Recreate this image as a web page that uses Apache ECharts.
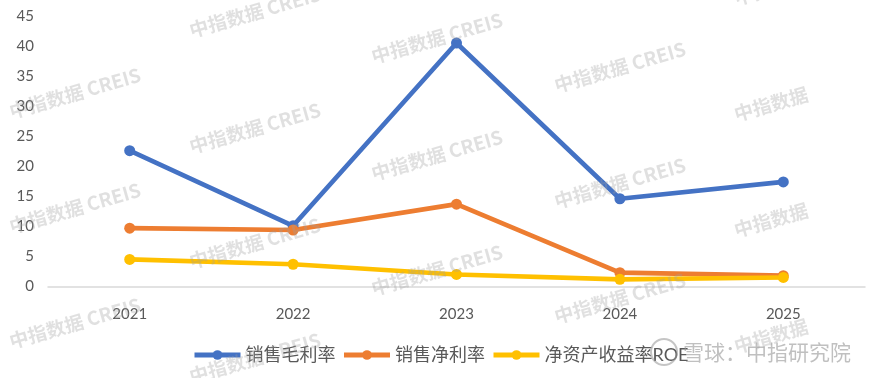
<!DOCTYPE html>
<html>
<head>
<meta charset="utf-8">
<script src="https://cdn.jsdelivr.net/npm/echarts@6/dist/echarts.min.js"></script>
<style>
  html, body { margin: 0; padding: 0; background: #fff; }
  #chart { width: 876px; height: 378px; }
</style>
</head>
<body>
<div id="chart"></div>
<script>
// data
const years = ['2021', '2022', '2023', '2024', '2025'];
const grossMargin = [22.6, 10.1, 40.5, 14.6, 17.4];
const netMargin = [9.7, 9.4, 13.7, 2.3, 1.8];
const roe = [4.5, 3.7, 2.0, 1.2, 1.5];
const seriesNames = ['销售毛利率', '销售净利率', '净资产收益率ROE'];

const textFont = 'Lato, "Noto Sans CJK SC", sans-serif';

// watermark spots
const markSpots = [
  [75, 93, 1], [75, 208, 1], [75, 323, 1],
  [255, 12, 1], [255, 128, 1], [255, 243, 1], [255, 358, 1],
  [437, 38, 1], [437, 155, 1], [437, 270, 1],
  [620, 67, 1], [620, 183, 1], [620, 298, 1],
  [771, -12, 0], [771, 104, 0], [771, 220, 0], [771, 336, 0]
];

function makeMarks() {
  let items = markSpots.map(function (p) {
    return {
      type: 'text',
      x: p[0],
      y: p[1],
      rotation: 0.28,
      z: 100,
      silent: true,
      style: {
        text: p[2] ? '中指数据 CREIS' : '中指数据',
        fill: 'rgba(160,160,160,0.32)',
        font: 'bold 19px "Noto Sans CJK SC", sans-serif',
        align: 'center',
        verticalAlign: 'middle'
      }
    };
  });
  items.push({
    type: 'circle',
    shape: { cx: 664, cy: 352, r: 13 },
    z: 100,
    silent: true,
    style: { fill: 'none', stroke: 'rgba(150,150,150,0.55)', lineWidth: 2 }
  });
  items.push({
    type: 'text',
    x: 683,
    y: 352,
    z: 100,
    silent: true,
    style: {
      text: '雪球：中指研究院',
      fill: 'rgba(150,150,150,0.6)',
      font: '21px "Noto Sans CJK SC", sans-serif',
      align: 'left',
      verticalAlign: 'middle'
    }
  });
  return items;
}

function makeLine(name, data, color) {
  return {
    name: name,
    type: 'line',
    data: data,
    symbol: 'circle',
    symbolSize: 11,
    lineStyle: { width: 4.7, color: color },
    itemStyle: { color: color },
    emphasis: { disabled: true }
  };
}

const myChart = echarts.init(document.getElementById('chart'));
myChart.setOption({
  animation: false,
  color: ['#4472C4', '#ED7D31', '#FFC000'],
  grid: { left: 48, right: 11, top: 16, bottom: 91.5, containLabel: false },
  legend: {
    top: 346,
    left: 192,
    padding: 0,
    itemWidth: 46,
    itemHeight: 12,
    itemGap: 6,
    lineStyle: { width: 5 },
    textStyle: { fontSize: 18, color: '#595959', fontFamily: textFont, padding: [0, 0, 0, 0] },
    data: seriesNames
  },
  xAxis: {
    type: 'category',
    data: years,
    boundaryGap: true,
    axisLine: { lineStyle: { color: '#d9d9d9', width: 1.5 } },
    axisTick: { show: false },
    axisLabel: { color: '#595959', fontSize: 15, margin: 20, fontFamily: textFont }
  },
  yAxis: {
    type: 'value',
    min: 0,
    max: 45,
    interval: 5,
    axisLine: { show: false },
    axisTick: { show: false },
    splitLine: { show: false },
    axisLabel: { color: '#595959', fontSize: 15, margin: 14, fontFamily: textFont }
  },
  series: [
    makeLine(seriesNames[0], grossMargin, '#4472C4'),
    makeLine(seriesNames[1], netMargin, '#ED7D31'),
    makeLine(seriesNames[2], roe, '#FFC000')
  ],
  graphic: makeMarks()
});
</script>
</body>
</html>
